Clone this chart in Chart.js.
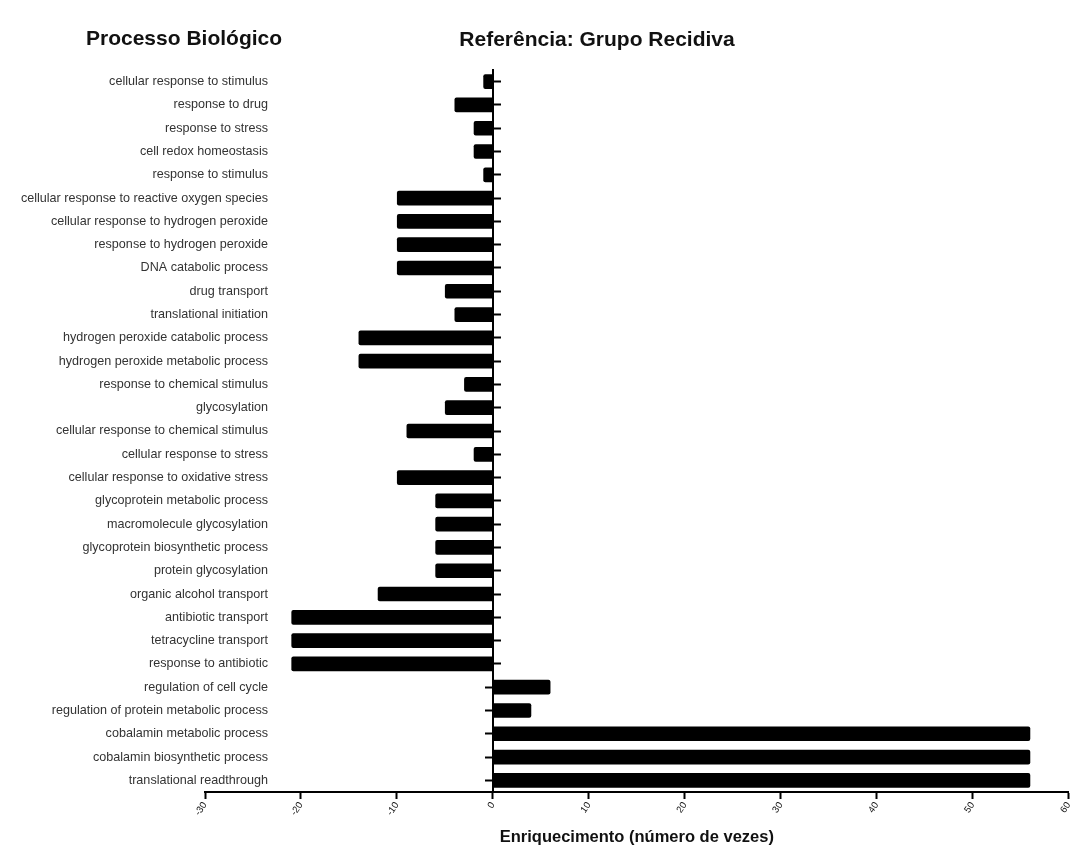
<!DOCTYPE html>
<html>
<head>
<meta charset="utf-8">
<script src="https://cdn.jsdelivr.net/npm/chart.js@4"></script>
<style>
  html, body { margin: 0; padding: 0; background: #fff; }
  #wrap { width: 1079px; height: 847px; }
</style>
</head>
<body>
<div id="wrap"><canvas id="c" width="1079" height="847"></canvas></div>
<script>
const categories = [
  "cellular response to stimulus",
  "response to drug",
  "response to stress",
  "cell redox homeostasis",
  "response to stimulus",
  "cellular response to reactive oxygen species",
  "cellular response to hydrogen peroxide",
  "response to hydrogen peroxide",
  "DNA catabolic process",
  "drug transport",
  "translational initiation",
  "hydrogen peroxide catabolic process",
  "hydrogen peroxide metabolic process",
  "response to chemical stimulus",
  "glycosylation",
  "cellular response to chemical stimulus",
  "cellular response to stress",
  "cellular response to oxidative stress",
  "glycoprotein metabolic process",
  "macromolecule glycosylation",
  "glycoprotein biosynthetic process",
  "protein glycosylation",
  "organic alcohol transport",
  "antibiotic transport",
  "tetracycline transport",
  "response to antibiotic",
  "regulation of cell cycle",
  "regulation of protein metabolic process",
  "cobalamin metabolic process",
  "cobalamin biosynthetic process",
  "translational readthrough"
];
const enrichment = [
  -1, -4, -2, -2, -1, -10, -10, -10, -10, -5,
  -4, -14, -14, -3, -5, -9, -2, -10, -6, -6,
  -6, -6, -12, -21, -21, -21, 6, 4, 56, 56, 56
];
const xMin = -30;
const xMax = 60;
const xStep = 10;
const leftTitle = "Processo Biológico";
const mainTitle = "Referência: Grupo Recidiva";
const xTitle = "Enriquecimento (número de vezes)";

const FONT = "'Liberation Sans', Arial, Helvetica, sans-serif";
const LABEL_SIZE = 12.6;
const Y_AXIS_WIDTH = 205;   // chart area starts here
const LABEL_RIGHT = 268;    // right edge of category labels

// measure widest category label so mirrored labels can be right-aligned at LABEL_RIGHT
const mctx = document.createElement('canvas').getContext('2d');
mctx.font = LABEL_SIZE + "px " + FONT;
let widest = 0;
for (const s of categories) widest = Math.max(widest, mctx.measureText(s).width);
const labelPadding = LABEL_RIGHT - Y_AXIS_WIDTH - widest;

const titlesPlugin = {
  id: 'titles',
  afterDraw(chart) {
    const ctx = chart.ctx;
    ctx.save();
    ctx.fillStyle = '#111';
    ctx.font = "bold 21px " + FONT;
    ctx.textBaseline = 'alphabetic';
    ctx.textAlign = 'left';
    ctx.fillText(leftTitle, 86, 45);
    ctx.textAlign = 'center';
    ctx.fillText(mainTitle, 597, 46);
    ctx.restore();
  }
};

new Chart(document.getElementById('c'), {
  type: 'bar',
  data: {
    labels: categories,
    datasets: [{
      data: enrichment,
      backgroundColor: '#000',
      borderWidth: 0,
      borderRadius: 2,
      categoryPercentage: 1,
      barPercentage: 0.63,
      yAxisID: 'y'
    }]
  },
  options: {
    indexAxis: 'y',
    responsive: false,
    animation: false,
    layout: { padding: { top: 70, right: 8, bottom: 0, left: 0 } },
    plugins: {
      legend: { display: false },
      tooltip: { enabled: false }
    },
    scales: {
      x: {
        type: 'linear',
        min: xMin,
        max: xMax,
        position: 'bottom',
        afterFit(scale) { scale.height = 55; },
        ticks: {
          stepSize: xStep,
          autoSkip: false,
          minRotation: 55,
          maxRotation: 55,
          padding: 1,
          color: '#111',
          font: { size: 9.5, family: FONT }
        },
        grid: {
          display: true,
          drawOnChartArea: false,
          drawTicks: true,
          tickLength: 7,
          tickWidth: 2,
          tickColor: '#000'
        },
        border: { display: true, color: '#000', width: 2 },
        title: {
          display: true,
          text: xTitle,
          color: '#111',
          font: { size: 16.5, weight: 'bold', family: FONT },
          padding: { top: 0, bottom: 0 }
        }
      },
      y: {
        type: 'category',
        position: 'left',
        offset: true,
        afterFit(scale) { scale.width = Y_AXIS_WIDTH; },
        ticks: {
          mirror: true,
          crossAlign: 'far',
          padding: labelPadding,
          autoSkip: false,
          color: '#333',
          font: { size: LABEL_SIZE, family: FONT }
        },
        grid: { display: false, drawTicks: false },
        border: { display: false }
      },
      yTL: {
        type: 'category',
        labels: categories,
        position: { x: 0 },
        offset: true,
        ticks: { display: false },
        grid: {
          offset: false,
          drawOnChartArea: false,
          drawTicks: true,
          tickLength: 7,
          tickWidth: 2,
          tickColor: (c) => (enrichment[c.index] >= 0 ? '#000' : 'rgba(0,0,0,0)')
        },
        border: { display: true, color: '#000', width: 2 }
      },
      yTR: {
        type: 'category',
        labels: categories,
        position: { x: 0 },
        offset: true,
        ticks: { display: false },
        grid: {
          offset: false,
          drawOnChartArea: false,
          drawTicks: true,
          tickLength: -8,
          tickWidth: 2,
          tickColor: (c) => (enrichment[c.index] < 0 ? '#000' : 'rgba(0,0,0,0)')
        },
        border: { display: false }
      }
    }
  },
  plugins: [titlesPlugin]
});
</script>
</body>
</html>
